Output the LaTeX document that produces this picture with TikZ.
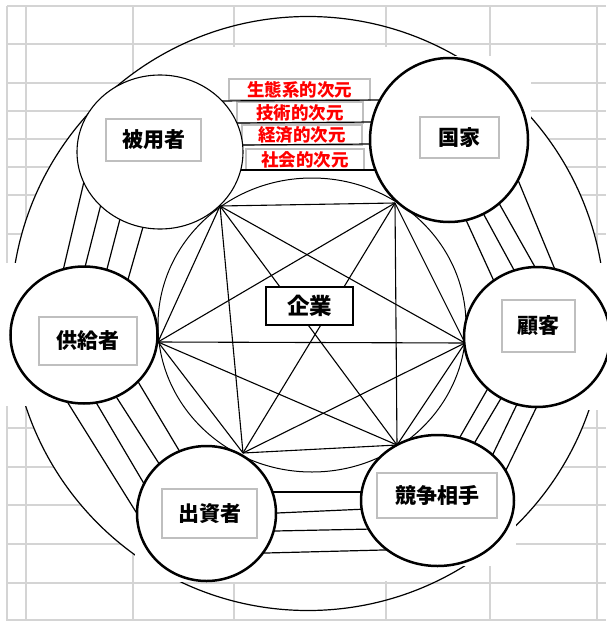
\documentclass[tikz,border=0pt]{standalone}
\usepackage{fontspec}
\newfontfamily\jp{Noto Sans CJK JP}
\usetikzlibrary{shapes.geometric}
\begin{document}
\begin{tikzpicture}[x=1pt,y=-1pt,
  gridline/.style={draw=black!17,line width=1.6pt},
  outerring/.style={draw=black,line width=1.2pt},
  innerring/.style={draw=black,line width=1pt},
  starline/.style={draw=black,line width=1.1pt},
  bandline/.style={draw=black,line width=1.2pt,shorten <=-9pt,shorten >=-9pt},
  party/.style={ellipse,draw=black,fill=white,line width=2.5pt,inner sep=0pt,outer sep=0pt},
  lightparty/.style={party,line width=1.1pt},
  tag/.style={draw=black!25,fill=white,line width=1.3pt,inner sep=0pt,
    font=\jp\bfseries\fontsize{21}{21}\selectfont},
  dimtag/.style={draw=black!25,fill=white,line width=1.1pt,inner sep=0pt,text=red,
    font=\jp\bfseries\fontsize{17.5}{17.5}\selectfont},
  corebox/.style={draw=black,fill=white,line width=2.4pt,inner sep=0pt,
    font=\jp\bfseries\fontsize{22.5}{22.5}\selectfont}]
\useasboundingbox (0,0) rectangle (606,621);
\fill[white] (0,0) rectangle (606,621);

% worksheet grid
\foreach \gx in {7,26,133,234,386,490,597}
  \draw[gridline] (\gx,6) -- (\gx,621);
\foreach \gy in {6,44,83,111,139,167,195,234,273,312,350,389,428,467,505,544,583,620}
  \draw[gridline] (7,\gy) -- (606,\gy);

% the outer ring hides the grid in its middle band
\begin{scope}
  \clip (0,47) rectangle (606,580);
  \fill[white] (308,313.5) circle[radius=297];
\end{scope}
\draw[outerring] (308,313.5) circle[radius=297];

% white backgrounds of the pasted stakeholder discs
\fill[white] (366,56) rectangle (531,226);
\fill[white] (462,263) rectangle (606,410);
\fill[white] (5,263) rectangle (161,406);
\fill[white] (135,443) rectangle (280,582);
\fill[white] (358,432) rectangle (516,566);

% inner ring and the complete graph on its six points
\draw[innerring] (312,325) ellipse[x radius=154,y radius=147];
\coordinate (p1) at (220,206);
\coordinate (p2) at (395,203);
\coordinate (p3) at (465,343);
\coordinate (p4) at (397,445);
\coordinate (p5) at (243,453);
\coordinate (p6) at (158,342);
\foreach \a/\b in {p1/p2,p1/p3,p1/p4,p1/p5,p1/p6,p2/p3,p2/p4,p2/p5,p2/p6,
                   p3/p4,p3/p5,p3/p6,p4/p5,p4/p6,p5/p6}
  \draw[starline] (\a) -- (\b);

% dimension tags between employees and state
\node[dimtag,minimum width=141pt,minimum height=21pt] (eco) at (299.5,89.5) {生態系的次元};
\node[dimtag,minimum width=126pt,minimum height=21pt] (tec) at (300,112.5) {技術的次元};
\node[dimtag,minimum width=120pt,minimum height=20pt] (eco2) at (302,135) {経済的次元};
\node[dimtag,minimum width=118pt,minimum height=21pt] (soc) at (305,159.5) {社会的次元};

% bands of links between neighbouring stakeholders
\coordinate (ta1) at (215,101); \coordinate (tb1) at (385,100);
\coordinate (ta2) at (236,123); \coordinate (tb2) at (375,122);
\coordinate (ta3) at (241,145); \coordinate (tb3) at (372,144);
\coordinate (ta4) at (242,170); \coordinate (tb4) at (375,170);
\coordinate (la1) at (82,190);  \coordinate (lb1) at (62,275);
\coordinate (la2) at (100,208); \coordinate (lb2) at (85,267);
\coordinate (la3) at (120,219); \coordinate (lb3) at (107,269);
\coordinate (la4) at (143,227); \coordinate (lb4) at (127,283);
\coordinate (da1) at (68,403);  \coordinate (db1) at (136,512);
\coordinate (da2) at (97,404);  \coordinate (db2) at (143,482);
\coordinate (da3) at (117,398); \coordinate (db3) at (158,462);
\coordinate (da4) at (140,385); \coordinate (db4) at (180,452);
\coordinate (ba1) at (274,492); \coordinate (bb1) at (363,492);
\coordinate (ba2) at (277,513); \coordinate (bb2) at (367,509);
\coordinate (ba3) at (275,531); \coordinate (bb3) at (373,529);
\coordinate (ba4) at (266,553); \coordinate (bb4) at (383,550);
\coordinate (ra1) at (466,220); \coordinate (rb1) at (493,279);
\coordinate (ra2) at (483,213); \coordinate (rb2) at (514,270);
\coordinate (ra3) at (500,205); \coordinate (rb3) at (535,267);
\coordinate (ra4) at (518,180); \coordinate (rb4) at (556,272);
\coordinate (ca1) at (487,390); \coordinate (cb1) at (460,437);
\coordinate (ca2) at (503,395); \coordinate (cb2) at (475,442);
\coordinate (ca3) at (520,398); \coordinate (cb3) at (493,454);
\coordinate (ca4) at (540,400); \coordinate (cb4) at (507,468);
\foreach \s in {t,l,d,b,r,c}
  \foreach \k in {1,2,3,4}
    \draw[bandline] (\s a\k) -- (\s b\k);

% stakeholders
\node[lightparty,minimum width=166pt,minimum height=154pt] (emp) at (160,152) {};
\node[party,minimum width=158pt,minimum height=164pt] (sta) at (449,140) {};
\node[party,minimum width=147pt,minimum height=137pt] (sup) at (84,335) {};
\node[party,minimum width=146pt,minimum height=140pt] (cus) at (537,337) {};
\node[party,minimum width=139pt,minimum height=135pt] (inv) at (206.5,513.5) {};
\node[party,minimum width=153pt,minimum height=131pt] (com) at (437.5,500.5) {};

\node[tag,minimum width=95pt,minimum height=42pt] (empt) at (153.5,140) {被用者};
\node[tag,minimum width=79pt,minimum height=41pt] (stat) at (459.5,137.5) {国家};
\node[tag,minimum width=98pt,minimum height=48pt] (supt) at (88,341) {供給者};
\node[tag,minimum width=73pt,minimum height=52pt] (cust) at (538.5,326) {顧客};
\node[tag,minimum width=95pt,minimum height=49pt] (invt) at (209.5,513.5) {出資者};
\node[tag,minimum width=120pt,minimum height=45pt] (comt) at (437,495.5) {競争相手};

% the firm at the centre
\node[corebox,minimum width=87pt,minimum height=38pt] (firm) at (309.5,306) {企業};
\end{tikzpicture}
\end{document}
